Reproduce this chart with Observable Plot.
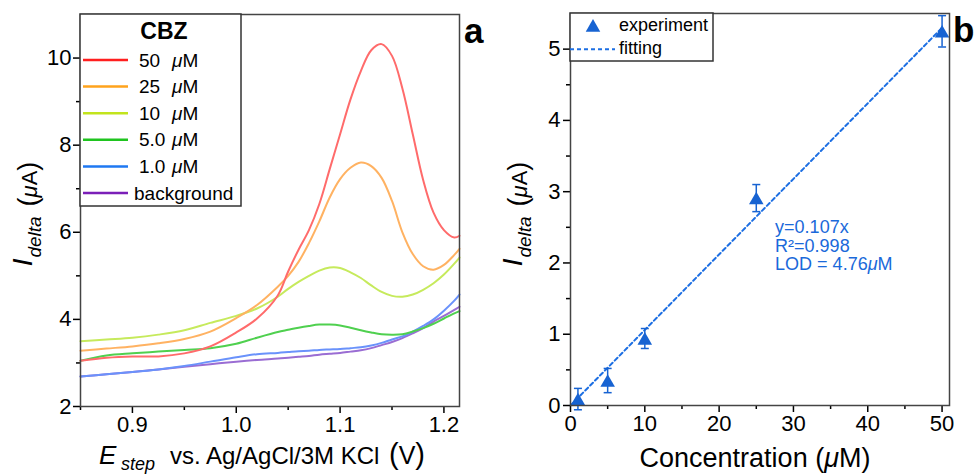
<!DOCTYPE html>
<html><head><meta charset="utf-8">
<script src="https://cdn.jsdelivr.net/npm/d3@7"></script>
<script src="https://cdn.jsdelivr.net/npm/@observablehq/plot@0.6"></script>
<style>
body{margin:0;background:#fff;}
#wrap{position:relative;width:976px;height:474px;overflow:hidden;font-family:"Liberation Sans",Arial,sans-serif;}
#wrap svg{position:absolute;top:0;}
</style></head><body><div id="wrap"></div>
<script>
// ---------- Panel a data ----------
const E = [0.85, 0.875, 0.9, 0.925, 0.95, 0.975, 1.0, 1.02, 1.04, 1.05, 1.06, 1.07, 1.08, 1.09, 1.1, 1.11, 1.12, 1.13, 1.14, 1.15, 1.16, 1.17, 1.18, 1.19, 1.2, 1.21, 1.215];
const I50 = [3.05, 3.12, 3.15, 3.15, 3.22, 3.38, 3.70, 4.02, 4.55, 5.10, 5.60, 6.05, 6.65, 7.45, 8.25, 9.05, 9.70, 10.18, 10.32, 10.05, 9.30, 8.25, 7.20, 6.45, 6.05, 5.88, 5.92];
const I25 = [3.28, 3.33, 3.38, 3.45, 3.55, 3.72, 4.03, 4.33, 4.75, 5.00, 5.32, 5.75, 6.25, 6.80, 7.22, 7.48, 7.60, 7.52, 7.25, 6.72, 6.00, 5.50, 5.22, 5.14, 5.25, 5.48, 5.62];
const I10 = [3.50, 3.54, 3.58, 3.65, 3.75, 3.92, 4.08, 4.25, 4.52, 4.70, 4.86, 5.00, 5.12, 5.19, 5.18, 5.08, 4.95, 4.78, 4.63, 4.54, 4.52, 4.57, 4.68, 4.83, 5.03, 5.28, 5.42];
const I5 = [3.05, 3.17, 3.22, 3.26, 3.30, 3.34, 3.44, 3.58, 3.71, 3.76, 3.81, 3.85, 3.88, 3.88, 3.86, 3.81, 3.75, 3.70, 3.66, 3.65, 3.66, 3.72, 3.80, 3.90, 4.02, 4.14, 4.19];
const I1 = [2.69, 2.74, 2.79, 2.85, 2.93, 3.03, 3.13, 3.20, 3.23, 3.25, 3.27, 3.28, 3.30, 3.31, 3.32, 3.34, 3.36, 3.40, 3.46, 3.54, 3.61, 3.72, 3.85, 4.00, 4.20, 4.43, 4.57];
const Ibg = [2.69, 2.74, 2.79, 2.85, 2.91, 2.97, 3.03, 3.07, 3.10, 3.12, 3.14, 3.16, 3.19, 3.21, 3.23, 3.26, 3.29, 3.34, 3.41, 3.48, 3.57, 3.68, 3.80, 3.95, 4.08, 4.22, 4.29];
const seriesNames = ["50", "25", "10", "5.0", "1.0", "background"];
const xTicksA = [0.9, 1.0, 1.1, 1.2];
const xMinorA = [0.85, 0.95, 1.05, 1.15];
const yTicksA = [2, 4, 6, 8, 10];
const yMinorA = [3, 5, 7, 9];

// ---------- Panel b data ----------
const conc = [1, 5, 10, 25, 50];
const idelta = [0.09, 0.35, 0.94, 2.91, 5.25];
const ierr = [0.15, 0.17, 0.14, 0.19, 0.22];
const fitConc = [0, 50];
const fitI = [0, 5.3];
const xTicksB = [0, 10, 20, 30, 40, 50];
const xMinorB = [5, 15, 25, 35, 45];
const yTicksB = [0, 1, 2, 3, 4, 5];
const yMinorB = [0.5, 1.5, 2.5, 3.5, 4.5];
const annotation = ["y=0.107x", "R²=0.998", "LOD = 4.76"];

// ---------- styles ----------
const FONT = '"Liberation Sans", Arial, Helvetica, sans-serif';
const curveColors = ["#ff6b6b", "#ffb262", "#c6ea5c", "#4fd04f", "#6a92fb", "#9a6dd3"];
const legendColors = ["#ff1f1f", "#ffa31c", "#c2e41c", "#1fc41f", "#1f78f2", "#7b1fb8"];
const BLUE = "#1763d2";
const seriesVals = [I50, I25, I10, I5, I1, Ibg];

const wrap = document.getElementById("wrap");

// ---------- Panel a ----------
const lineMarks = seriesVals.map((vals, k) => ({vals, k})).reverse().map(({vals, k}) =>
  Plot.line(E.map((e, i) => ({E: e, I: vals[i]})), {x: "E", y: "I", stroke: curveColors[k], strokeWidth: 2, curve: "catmull-rom"}));

const plotA = Plot.plot({
  width: 488, height: 474,
  marginLeft: 80, marginRight: 29, marginTop: 14, marginBottom: 68,
  style: {fontFamily: FONT, fontSize: "22px", color: "#000", background: "transparent", overflow: "visible"},
  x: {domain: [0.85, 1.215]},
  y: {domain: [2, 11]},
  marks: [
    ...lineMarks,
    Plot.axisX(xTicksA, {tickSize: 7, tickPadding: 3, tickFormat: d => d.toFixed(1), label: null, fontSize: 22, strokeWidth: 1.5}),
    Plot.axisX(xMinorA, {tickSize: 4, tickFormat: () => "", label: null, strokeWidth: 1.5}),
    Plot.axisY(yTicksA, {tickSize: 7, tickPadding: 2, tickFormat: d => String(d), label: null, fontSize: 22, strokeWidth: 1.5}),
    Plot.axisY(yMinorA, {tickSize: 4, tickFormat: () => "", label: null, strokeWidth: 1.5}),
    Plot.frame({stroke: "#444", strokeWidth: 1.5})
  ]
});
plotA.style.left = "0px";
wrap.appendChild(plotA);

function yTitle(svg, x, yc) {
  const t = svg.append("text").attr("transform", `translate(${x},${yc}) rotate(-90)`)
    .attr("text-anchor", "middle").attr("fill", "#000").style("font-family", FONT);
  t.append("tspan").attr("font-style", "italic").attr("font-size", 28).text("I");
  t.append("tspan").attr("font-style", "italic").attr("font-size", 19).attr("dy", 9).attr("dx", 1).text("delta");
  t.append("tspan").attr("font-size", 27).attr("dy", -4).attr("dx", 10).text("(");
  t.append("tspan").attr("font-size", 22).attr("font-style", "italic").text("μ");
  t.append("tspan").attr("font-size", 22).text("A");
  t.append("tspan").attr("font-size", 27).text(")");
}

const sa = d3.select(plotA);
yTitle(sa, 32, 214);
// x title
const xt = sa.append("text").attr("y", 464).attr("text-anchor", "start").attr("fill", "#000").style("font-family", FONT);
xt.append("tspan").attr("x", 99).attr("font-style", "italic").attr("font-size", 26).text("E");
xt.append("tspan").attr("x", 121).attr("dy", 6).attr("font-style", "italic").attr("font-size", 18).text("step");
xt.append("tspan").attr("x", 170).attr("dy", -6).attr("font-size", 24).text("vs. Ag/AgCl/3M KCl");
xt.append("tspan").attr("x", 389).attr("font-size", 29).text("(");
xt.append("tspan").attr("font-size", 25).text("V");
xt.append("tspan").attr("font-size", 29).text(")");
// panel letter
sa.append("text").attr("x", 464).attr("y", 43).attr("text-anchor", "start").attr("font-size", 35).attr("font-weight", "bold")
  .attr("fill", "#000").style("font-family", FONT).text("a");
// legend a
const lg = sa.append("g").style("font-family", FONT).attr("text-anchor", "start");
lg.append("rect").attr("x", 80).attr("y", 14).attr("width", 161).attr("height", 192)
  .attr("fill", "#fff").attr("stroke", "#333").attr("stroke-width", 1.5);
lg.append("text").attr("x", 164).attr("y", 39).attr("text-anchor", "middle").attr("font-weight", "bold")
  .attr("font-size", 23).attr("fill", "#000").text("CBZ");
seriesNames.forEach((name, k) => {
  const yc = 60 + k * 26.6;
  lg.append("line").attr("x1", 83).attr("x2", 128).attr("y1", yc).attr("y2", yc)
    .attr("stroke", legendColors[k]).attr("stroke-width", 2.5);
  const t = lg.append("text").attr("y", yc + 6.6).attr("text-anchor", "start").attr("font-size", 19).attr("fill", "#000");
  if (name === "background") {
    t.attr("x", 134).text(name);
  } else {
    t.append("tspan").attr("x", 139).text(name);
    t.append("tspan").attr("x", 172).attr("font-style", "italic").text("μ");
    t.append("tspan").text("M");
  }
});

// ---------- Panel b ----------
const pts = conc.map((c, i) => ({c, v: idelta[i], e: ierr[i]}));
const fit = fitConc.map((c, i) => ({c, v: fitI[i]}));
const capSymbol = {draw(ctx) { ctx.moveTo(-4, 0); ctx.lineTo(4, 0); }};

const plotB = Plot.plot({
  width: 488, height: 474,
  marginLeft: 82, marginRight: 27, marginTop: 13, marginBottom: 69,
  style: {fontFamily: FONT, fontSize: "22px", color: "#000", background: "transparent", overflow: "visible"},
  x: {domain: [0, 51]},
  y: {domain: [0, 5.5]},
  marks: [
    Plot.line(fit, {x: "c", y: "v", stroke: "#1d6fe3", strokeWidth: 2, strokeDasharray: "4,3"}),
    Plot.ruleX(pts, {x: "c", y1: d => d.v - d.e, y2: d => d.v + d.e, stroke: BLUE, strokeWidth: 1.5}),
    Plot.dot(pts, {x: "c", y: d => d.v - d.e, symbol: capSymbol, stroke: BLUE, strokeWidth: 1.5}),
    Plot.dot(pts, {x: "c", y: d => d.v + d.e, symbol: capSymbol, stroke: BLUE, strokeWidth: 1.5}),
    Plot.dot(pts, {x: "c", y: "v", symbol: "triangle", r: 5.4, fill: BLUE, stroke: "none", dy: 2}),
    Plot.axisX(xTicksB, {tickSize: 7, tickPadding: 3, tickFormat: d => String(d), label: null, fontSize: 22, strokeWidth: 1.5}),
    Plot.axisX(xMinorB, {tickSize: 4, tickFormat: () => "", label: null, strokeWidth: 1.5}),
    Plot.axisY(yTicksB, {tickSize: 7, tickPadding: 3, tickFormat: d => String(d), label: null, fontSize: 22, strokeWidth: 1.5}),
    Plot.axisY(yMinorB, {tickSize: 4, tickFormat: () => "", label: null, strokeWidth: 1.5}),
    Plot.frame({stroke: "#444", strokeWidth: 1.5})
  ]
});
plotB.style.left = "488px";
wrap.appendChild(plotB);

const sb = d3.select(plotB);
yTitle(sb, 34, 214);
const xtb = sb.append("text").attr("x", 267).attr("y", 467).attr("text-anchor", "middle")
  .attr("font-size", 27).attr("fill", "#000").style("font-family", FONT);
xtb.append("tspan").text("Concentration (");
xtb.append("tspan").attr("font-style", "italic").text("μ");
xtb.append("tspan").text("M)");
sb.append("text").attr("x", 465).attr("y", 42).attr("text-anchor", "start").attr("font-size", 35).attr("font-weight", "bold")
  .attr("fill", "#000").style("font-family", FONT).text("b");
// annotation placed with plot scales
const sx = plotB.scale("x"), sy = plotB.scale("y");
const ann = sb.append("text").attr("text-anchor", "start").attr("font-size", 18).attr("fill", "#1a69da").style("font-family", FONT);
annotation.forEach((line, i) => {
  ann.append("tspan").attr("x", sx.apply(27.6)).attr("y", sy.apply(2.41) + i * 18.5).text(line);
});
ann.append("tspan").attr("font-style", "italic").text("μ");
ann.append("tspan").text("M");
// legend b
const lb = sb.append("g").style("font-family", FONT).attr("text-anchor", "start");
lb.append("rect").attr("x", 82).attr("y", 13).attr("width", 143).attr("height", 48)
  .attr("fill", "#fff").attr("stroke", "#333").attr("stroke-width", 1.5);
lb.append("path").attr("d", d3.symbol(d3.symbolTriangle, Math.PI * 5.4 * 5.4)())
  .attr("transform", "translate(105,27.5)").attr("fill", BLUE);
lb.append("text").attr("x", 131).attr("y", 31).attr("text-anchor", "start").attr("font-size", 18).attr("fill", "#000").text("experiment");
lb.append("line").attr("x1", 82).attr("x2", 127).attr("y1", 49.3).attr("y2", 49.3)
  .attr("stroke", "#1d6fe3").attr("stroke-width", 2).attr("stroke-dasharray", "4,3");
lb.append("text").attr("x", 131).attr("y", 54).attr("text-anchor", "start").attr("font-size", 18).attr("fill", "#000").text("fitting");
</script>
</body></html>
